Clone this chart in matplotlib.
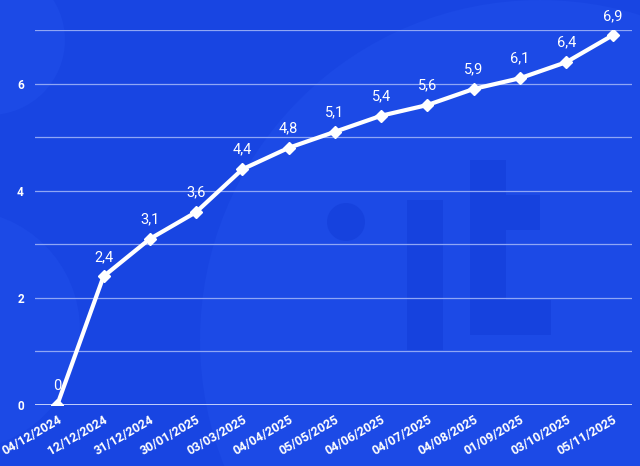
import matplotlib.pyplot as plt
from matplotlib.patches import Circle, Rectangle

dates = ['04/12/2024', '12/12/2024', '31/12/2024', '30/01/2025', '03/03/2025',
         '04/04/2025', '05/05/2025', '04/06/2025', '04/07/2025', '04/08/2025',
         '01/09/2025', '03/10/2025', '05/11/2025']
values = [0, 2.4, 3.1, 3.6, 4.4, 4.8, 5.1, 5.4, 5.6, 5.9, 6.1, 6.4, 6.9]
yticks = [0, 2, 4, 6]

bg = '#1845e2'
plt.rcParams['font.family'] = ['Roboto', 'DejaVu Sans']

fig = plt.figure(figsize=(6.4, 4.66), dpi=100)
fig.patch.set_facecolor(bg)

# faint watermark shapes in the background
deco = fig.add_axes([0, 0, 1, 1], zorder=0)
deco.set_xlim(0, 640)
deco.set_ylim(466, 0)
deco.axis('off')
deco.add_patch(Circle((540, 340), 340, color='#1c4ae6', lw=0))
deco.add_patch(Circle((-10, 40), 75, color='#1c4ae6', lw=0))
deco.add_patch(Circle((-40, 330), 120, color='#1c4ae6', lw=0))
deco.add_patch(Circle((346, 222), 19, color='#1642de', lw=0))
deco.add_patch(Rectangle((407, 200), 36, 150, color='#1642de', lw=0))
deco.add_patch(Rectangle((470, 160), 36, 175, color='#1642de', lw=0))
deco.add_patch(Rectangle((506, 195), 34, 35, color='#1642de', lw=0))
deco.add_patch(Rectangle((506, 300), 45, 35, color='#1642de', lw=0))

ax = fig.add_axes([0.0547, 0.1309, 0.9328, 0.8047], zorder=1)
ax.set_facecolor('none')

x = list(range(len(dates)))
ax.plot(x, values, color='white', lw=3, marker='D', markersize=6,
        markerfacecolor='white', markeredgecolor='white', zorder=3)

for xi, v in zip(x, values):
    lab = f'{v:g}'.replace('.', ',')
    ax.annotate(lab, (xi, v), xytext=(0, 9), textcoords='offset points',
                ha='center', va='bottom', color='white', fontsize=10.5)

ax.set_xlim(-0.48, 12.42)
ax.set_ylim(0, 7)
ax.set_yticks(range(0, 8))
ax.set_yticklabels([str(t) if t in yticks else '' for t in range(0, 8)],
                   color='white', fontsize=8.5, fontweight='bold')
ax.grid(axis='y', color='#8fa6f5', lw=0.9)
ax.axhline(0, color='#dce4ff', lw=1.2, zorder=2)

ax.set_xticks(x)
ax.set_xticklabels(dates, rotation=30, ha='right', rotation_mode='anchor',
                   color='white', fontsize=9, fontweight='bold')
ax.tick_params(axis='y', length=0, pad=8)
ax.tick_params(axis='x', length=0, pad=6)
for s in ax.spines.values():
    s.set_visible(False)

plt.savefig('out.png', dpi=100, facecolor=bg)
